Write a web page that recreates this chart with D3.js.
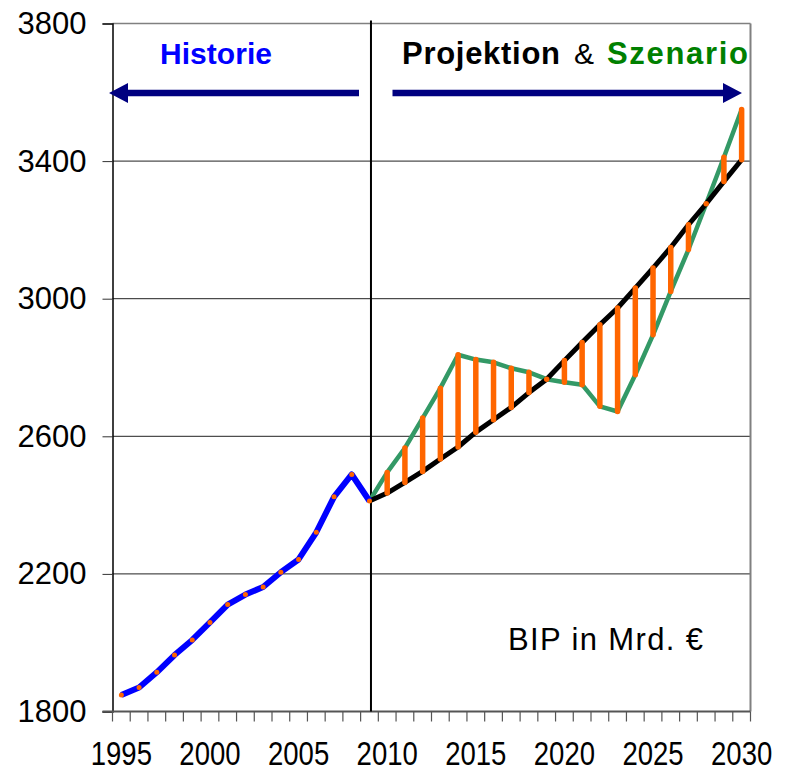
<!DOCTYPE html>
<html><head><meta charset="utf-8">
<script src="https://cdn.jsdelivr.net/npm/d3@7"></script>
<style>
html,body{margin:0;padding:0;background:#fff;}
svg{display:block;font-family:"Liberation Sans",Arial,sans-serif;}
</style></head>
<body>
<svg id="c" width="788" height="772"></svg>
<script>
const years = [1995,1996,1997,1998,1999,2000,2001,2002,2003,2004,2005,2006,2007,2008,2009,
  2010,2011,2012,2013,2014,2015,2016,2017,2018,2019,2020,2021,2022,2023,2024,2025,2026,2027,2028,2029,2030];
const yearLabels = [1995,2000,2005,2010,2015,2020,2025,2030];
const yTicks = [1800,2200,2600,3000,3400,3800];
const histYears = [1995,1996,1997,1998,1999,2000,2001,2002,2003,2004,2005,2006,2007,2008,2009];
const historie = [1848,1870,1914,1964,2008,2059,2111,2140,2162,2205,2242,2321,2424,2489,2412];
const projYears = [2009,2010,2011,2012,2013,2014,2015,2016,2017,2018,2019,2020,2021,2022,2023,2024,2025,2026,2027,2028,2029,2030];
const projektion = [2412,2435,2466,2498,2534,2569,2612,2648,2684,2727,2766,2820,2873,2924,2973,3031,3089,3149,3215,3276,3341,3404];
const szenario   = [2412,2495,2566,2653,2740,2837,2823,2815,2798,2786,2766,2757,2750,2687,2672,2779,2895,3021,3143,3276,3411,3550];

const svg = d3.select("#c");
const L = 112.5, R = 750.5, T = 23.5, B = 711.5;
const x = d3.scaleBand().domain(years).range([L, R]).padding(0);
const cx = yr => x(yr) + x.bandwidth() / 2;
const y = d3.scaleLinear().domain([1800, 3800]).range([B, T]);

// gridlines
svg.append("g").selectAll("line").data(yTicks.filter(v => v > 1800 && v < 3800)).join("line")
  .attr("x1", L).attr("x2", R).attr("y1", d => y(d)).attr("y2", d => y(d))
  .attr("stroke", "#222").attr("stroke-width", 1);

// plot border top/right
svg.append("line").attr("x1", L).attr("x2", R).attr("y1", T).attr("y2", T).attr("stroke", "#808080").attr("stroke-width", 1.5);
svg.append("line").attr("x1", R).attr("x2", R).attr("y1", T).attr("y2", B).attr("stroke", "#808080").attr("stroke-width", 2);

// y axis
const yAxis = d3.axisLeft(y).tickValues(yTicks).tickSize(10).tickPadding(16).tickFormat(d3.format("d"));
const gy = svg.append("g").attr("transform", `translate(${L},0)`).call(yAxis);
gy.select(".domain").attr("stroke", "#000").attr("stroke-width", 1.5);
gy.selectAll(".tick line").attr("stroke", "#333");
gy.selectAll(".tick text").attr("font-size", 31).attr("fill", "#000")
  .attr("font-family", "'Liberation Sans',Arial,sans-serif");

// x axis: ticks at band boundaries
const bounds = years.map(yr => x(yr)).concat([R]);
svg.append("g").selectAll("line").data(bounds).join("line")
  .attr("x1", d => d).attr("x2", d => d).attr("y1", B).attr("y2", B + 10)
  .attr("stroke", "#555").attr("stroke-width", 1.2);
svg.append("line").attr("x1", L - 10).attr("x2", R).attr("y1", B).attr("y2", B).attr("stroke", "#555").attr("stroke-width", 2);
svg.append("g").selectAll("text").data(yearLabels).join("text")
  .attr("transform", d => `translate(${cx(d)},765) scale(0.86,1.05)`)
  .attr("text-anchor", "middle").attr("font-size", 32).attr("fill", "#000")
  .text(d => d);

// divider
svg.append("line").attr("x1", cx(2009) + 1.5).attr("x2", cx(2009) + 1.5).attr("y1", T - 3).attr("y2", B)
  .attr("stroke", "#000").attr("stroke-width", 2);

// lines
const line = d3.line().x(d => cx(d[0])).y(d => y(d[1]));
svg.append("path").datum(projYears.map((yr, i) => [yr, szenario[i]])).attr("d", line)
  .attr("fill", "none").attr("stroke", "#339966").attr("stroke-width", 4.5).attr("stroke-linejoin", "round");
svg.append("path").datum(projYears.map((yr, i) => [yr, projektion[i]])).attr("d", line)
  .attr("fill", "none").attr("stroke", "#000").attr("stroke-width", 5).attr("stroke-linejoin", "round");
svg.append("path").datum(histYears.map((yr, i) => [yr, historie[i]])).attr("d", line)
  .attr("fill", "none").attr("stroke", "#0000FF").attr("stroke-width", 6).attr("stroke-linejoin", "round");

// high-low lines
const hl = histYears.map((yr, i) => ({yr, a: historie[i], b: historie[i]}))
  .concat(projYears.slice(1).map((yr, i) => ({yr, a: projektion[i + 1], b: szenario[i + 1]})));
svg.append("g").selectAll("line").data(hl).join("line")
  .attr("x1", d => cx(d.yr)).attr("x2", d => cx(d.yr))
  .attr("y1", d => y(d.a)).attr("y2", d => y(d.b))
  .attr("stroke", "#FF6600").attr("stroke-width", d => d.yr < 2010 ? 5 : 5.5).attr("stroke-linecap", "round");

// headers
svg.append("text").attr("x", 160).attr("y", 64).attr("font-size", 30).attr("font-weight", "bold")
  .attr("fill", "#0000FF").attr("textLength", 112).attr("lengthAdjust", "spacing").text("Historie");
svg.append("text").attr("x", 402).attr("y", 64).attr("font-size", 31).attr("font-weight", "bold")
  .attr("fill", "#000").attr("textLength", 158).attr("lengthAdjust", "spacing").text("Projektion");
svg.append("text").attr("x", 574).attr("y", 64).attr("font-size", 30).attr("fill", "#000").text("&");
svg.append("text").attr("x", 607).attr("y", 64).attr("font-size", 31).attr("font-weight", "bold")
  .attr("fill", "#008000").attr("textLength", 141).attr("lengthAdjust", "spacing").text("Szenario");

// arrows
const navy = "#000080";
svg.append("path").attr("fill", navy)
  .attr("d", `M109,93 L128,83 L128,89.8 L359,89.8 L359,96.2 L128,96.2 L128,103 Z`);
svg.append("path").attr("fill", navy)
  .attr("d", `M742,93 L723,83 L723,89.8 L392.5,89.8 L392.5,96.2 L723,96.2 L723,103 Z`);

// annotation
svg.append("text").attr("x", 508).attr("y", 650).attr("font-size", 31).attr("fill", "#000")
  .attr("textLength", 195).attr("lengthAdjust", "spacing").text("BIP in Mrd. €");
</script>
</body></html>
